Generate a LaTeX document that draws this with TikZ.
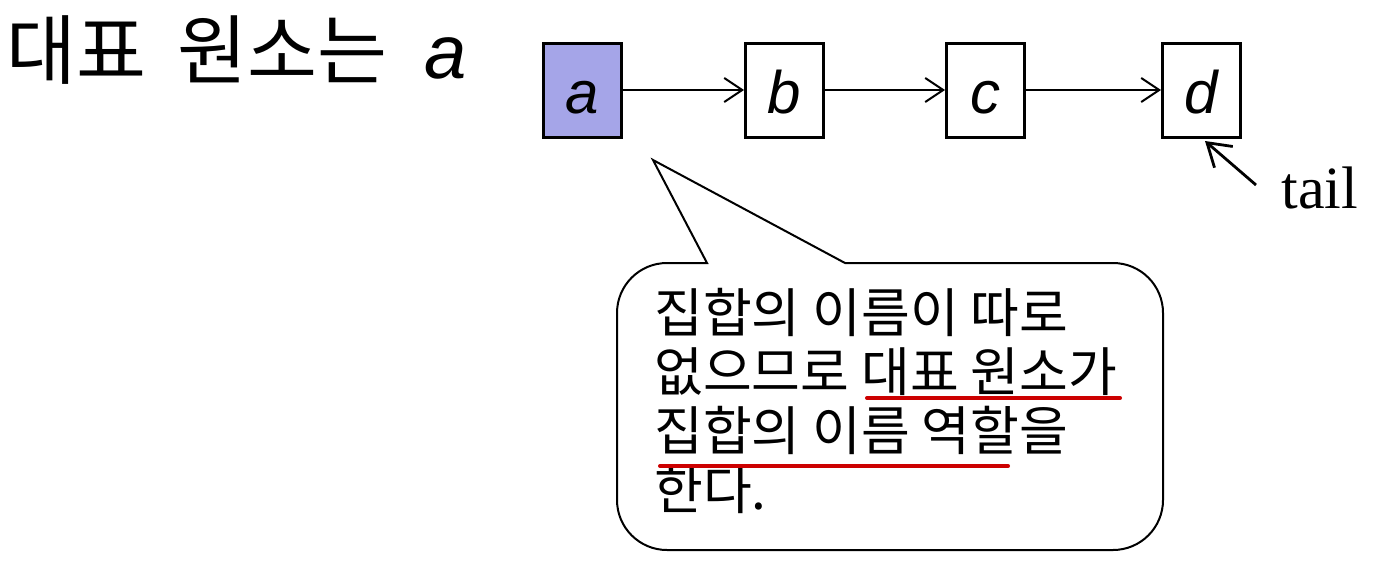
\documentclass[tikz,border=0pt]{standalone}
\usepackage{fontspec}
\setmainfont{Liberation Sans}
\newfontfamily\krfont{Noto Sans CJK KR}
\newfontfamily\serffont{Liberation Serif}
\usetikzlibrary{arrows.meta}

\definecolor{headfill}{RGB}{165,165,232}
\definecolor{ulred}{RGB}{204,0,0}

\tikzset{
  cell/.style={draw, line width=1.5pt, minimum width=39pt, minimum height=47pt, inner sep=0pt,
    text height=23pt, text depth=0pt, font=\fontsize{30}{36}\selectfont\itshape},
  link/.style={line width=1pt, -{Straight Barb[length=9pt,width=12pt,line width=1pt]}},
  tailptr/.style={line width=1.4pt, -{Straight Barb[length=11pt,width=14pt,line width=1.4pt]}},
  uline/.style={draw=ulred, line width=2pt, line cap=round},
}

\begin{document}
\begin{tikzpicture}[x=0.5pt,y=0.5pt,yscale=-1,xscale=1]
\useasboundingbox (0,0) rectangle (1379,578);

% Text Node
\node [anchor=west, inner sep=0pt, font=\krfont\fontsize{38}{40}\selectfont] (title) at (6,50)
  {대표\hspace{7pt} 원소는\hspace{10pt} {\rmfamily\itshape\fontsize{38}{40}\selectfont a}};

%Shape: Rectangle
\node [cell, fill=headfill] (a) at (582,90) {a};
%Shape: Rectangle
\node [cell] (b) at (784.5,90) {b};
%Shape: Rectangle
\node [cell] (c) at (985.5,90) {c};
%Shape: Rectangle
\node [cell] (d) at (1201.5,90) {d};

%Straight Lines
\draw [link] (a) -- (b) ;
%Straight Lines
\draw [link] (b) -- (c) ;
%Straight Lines
\draw [link] (c) -- (d) ;

% Text Node
\node [anchor=base west, inner sep=0pt, font=\serffont\fontsize{30}{36}\selectfont] (tail) at (1281,208) {tail};
\coordinate (tailfoot) at (1256,185);
\coordinate (dfoot) at (1205,141);
%Straight Lines
\draw [tailptr] (tailfoot) -- (dfoot) ;

%Shape: Callout
\draw [line width=1pt] (707,263) -- (653,160) -- (845,263) -- (1113,263)
  arc [start angle=-90, end angle=0, radius=50] -- (1163,500)
  arc [start angle=0, end angle=90, radius=50] -- (667,550)
  arc [start angle=90, end angle=180, radius=50] -- (617,313)
  arc [start angle=180, end angle=270, radius=50] -- cycle ;

% Text Node
\node [anchor=north west, align=left, inner sep=0pt, font=\krfont\fontsize{26.5}{29.5}\selectfont] (note) at (654,288)
  {집합의 이름이 따로\\없으므로 대표 원소가\\집합의 이름 역할을\\한다.};

%Straight Lines
\draw [uline] (867,398) -- (1120,398) ;
%Straight Lines
\draw [uline] (660,466) -- (1008,466) ;

\end{tikzpicture}
\end{document}
